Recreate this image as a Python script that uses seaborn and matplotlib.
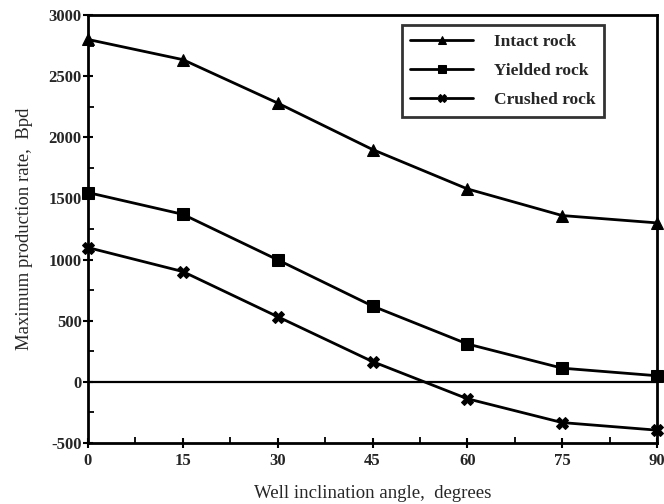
import matplotlib
matplotlib.use("Agg")
import matplotlib.pyplot as plt
import seaborn as sns
import pandas as pd
from matplotlib.ticker import MultipleLocator

angles = [0, 15, 30, 45, 60, 75, 90]
intact = [2800, 2635, 2280, 1900, 1578, 1360, 1300]
yielded = [1548, 1370, 998, 620, 310, 112, 50]
crushed = [1098, 902, 533, 166, -138, -333, -395]
series_names = ["Intact rock", "Yielded rock", "Crushed rock"]

df = pd.DataFrame({
    "angle": angles * 3,
    "rate": intact + yielded + crushed,
    "series": [series_names[0]] * 7 + [series_names[1]] * 7 + [series_names[2]] * 7,
})

sns.set_theme(style="white")
plt.rcParams["font.family"] = ["Liberation Serif", "DejaVu Serif"]
plt.rcParams["axes.unicode_minus"] = False

fig = plt.figure(figsize=(6.64, 5.04), dpi=100)
ax = fig.add_axes([88/664, 1-443/504, (657-88)/664, (443-15)/504])

sns.lineplot(data=df, x="angle", y="rate", hue="series", style="series",
             markers=["^", "s", "X"], dashes=False,
             palette=["black", "black", "black"], linewidth=2.0,
             markersize=8, markeredgecolor="black", ax=ax)
for ln in ax.get_lines():
    ln.set_clip_on(False)

ax.axhline(0, color="black", lw=1.6, zorder=1)

ax.set_xlim(0, 90)
ax.set_ylim(-500, 3000)
ax.xaxis.set_major_locator(MultipleLocator(15))
ax.xaxis.set_minor_locator(MultipleLocator(7.5))
ax.yaxis.set_major_locator(MultipleLocator(500))
ax.yaxis.set_minor_locator(MultipleLocator(250))
ax.tick_params(which="major", direction="inout", length=7, width=1.5, color="black",
               labelsize=12, left=True, bottom=True, pad=1)
ax.tick_params(axis="x", which="major", pad=4)
ax.tick_params(which="minor", direction="in", length=4, width=1.3, color="black",
               left=True, bottom=True)
for lab in ax.get_xticklabels() + ax.get_yticklabels():
    lab.set_fontweight("bold")

for sp in ax.spines.values():
    sp.set_visible(True)
    sp.set_color("black")
    sp.set_linewidth(2.0)

ax.set_xlabel("Well inclination angle,  degrees", fontsize=13.5, labelpad=11)
ax.set_ylabel("Maximum production rate,  Bpd", fontsize=13.5, labelpad=11)

leg = ax.legend(loc="upper right", bbox_to_anchor=((604-88)/569, 1-(25-15)/428),
                borderaxespad=0, frameon=True, fancybox=False, edgecolor="black",
                prop={"family": "Liberation Serif", "weight": "bold", "size": 12.5},
                handlelength=3.6, borderpad=0.5, labelspacing=0.75, handletextpad=1.2,
                markerscale=0.8)
leg.get_frame().set_linewidth(2.0)

fig.savefig("out.png", dpi=100)
